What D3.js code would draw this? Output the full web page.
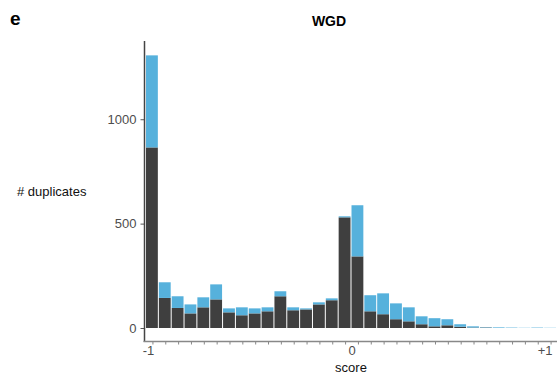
<!DOCTYPE html>
<html><head><meta charset="utf-8">
<script src="https://cdn.jsdelivr.net/npm/d3@7"></script>
<style>body{margin:0;background:#fff}svg{display:block;font-family:"Liberation Sans",Arial,sans-serif}</style>
</head><body><svg id="c" width="557" height="375"></svg>
<script>
// 32 bins of width 0.0625 from -1 to +1
const binStarts = d3.range(32).map(i => -1 + i * 0.0625);
const darkValues = [865,144,96,70,99,137,75,61,70,80,152,85,89,113,133,530,343,80,66,42,32,18,8,13,6,2,2,0,0,0,0,0];
const blueValues = [441,75,56,43,48,72,19,38,24,19,24,14,5,10,9,5,245,77,100,76,67,38,39,29,12,6,2,3,2,1,2,1];
const yTicks = [0, 500, 1000];
const xLabels = [{v:-1,t:"-1"},{v:0,t:"0"},{v:1,t:"+1"}];

const svg = d3.select("#c");
const x = d3.scaleLinear().domain([-1, 1]).range([146, 557]);
const y = d3.scaleLinear().domain([0, 1370]).range([328, 42]);
const bw = 0.0625;
const DARK = "#3f3f3f", BLUE = "#56b1dc";

const data = binStarts.map((s, i) => ({s, d: darkValues[i], b: blueValues[i]}));

// dark (bottom) bars
svg.append("g").selectAll("rect").data(data).join("rect")
  .attr("x", d => x(d.s))
  .attr("width", d => x(d.s + bw) - x(d.s) - 1)
  .attr("y", d => y(d.d))
  .attr("height", d => y(0) - y(d.d))
  .attr("fill", DARK);
// blue (stacked) bars
svg.append("g").selectAll("rect").data(data).join("rect")
  .attr("x", d => x(d.s))
  .attr("width", d => x(d.s + bw) - x(d.s) - 1)
  .attr("y", d => y(d.d + d.b))
  .attr("height", d => y(d.d) - y(d.d + d.b))
  .attr("fill", BLUE);

// y axis
const ya = svg.append("g").attr("transform", "translate(144.5,0)")
  .call(d3.axisLeft(y).tickValues(yTicks).tickSize(4).tickPadding(4).tickFormat(d3.format("d")));
ya.select(".domain").remove();
ya.selectAll(".tick line").attr("stroke", "#555");
ya.selectAll(".tick text").attr("fill", "#4d4d4d").style("font-size", "13px").style("font-family", "Liberation Sans, Arial, sans-serif");
svg.append("line").attr("x1", 144.5).attr("x2", 144.5).attr("y1", 41).attr("y2", 342)
  .attr("stroke", "#444").attr("stroke-width", 1.5);

// x axis: ticks at bin centres
const xa = svg.append("g").attr("transform", "translate(0,341.5)")
  .call(d3.axisBottom(x).tickValues(binStarts.map(s => s + bw / 2)).tickSize(3).tickFormat(""));
xa.select(".domain").remove();
xa.selectAll(".tick line").attr("stroke", "#888");
svg.append("line").attr("x1", 143.5).attr("x2", 557).attr("y1", 341.5).attr("y2", 341.5)
  .attr("stroke", "#888").attr("stroke-width", 1.5);
const xl = svg.append("g").attr("transform", "translate(0,341.5)")
  .call(d3.axisBottom(x).tickValues(xLabels.map(d => d.v)).tickSize(0).tickPadding(4)
    .tickFormat(v => xLabels.find(d => d.v === v).t));
xl.select(".domain").remove();
xl.selectAll(".tick text").attr("fill", "#4d4d4d").style("font-size", "13px").style("font-family", "Liberation Sans, Arial, sans-serif");
xl.selectAll(".tick").filter(v => v === 1).select("text").attr("text-anchor", "end").attr("dx", -5);
xl.selectAll(".tick").filter(v => v === -1).select("text").attr("dx", 2);

// titles
svg.append("text").attr("x", 10).attr("y", 25).attr("font-size", 19).attr("font-weight", "bold").text("e");
svg.append("text").attr("x", 329).attr("y", 26).attr("text-anchor", "middle").attr("font-size", 14).attr("font-weight", "bold").text("WGD");
svg.append("text").attr("x", 17).attr("y", 196).attr("font-size", 13).attr("fill", "#111").text("# duplicates");
svg.append("text").attr("x", 351).attr("y", 372).attr("text-anchor", "middle").attr("font-size", 13).attr("fill", "#111").text("score");
</script></body></html>
